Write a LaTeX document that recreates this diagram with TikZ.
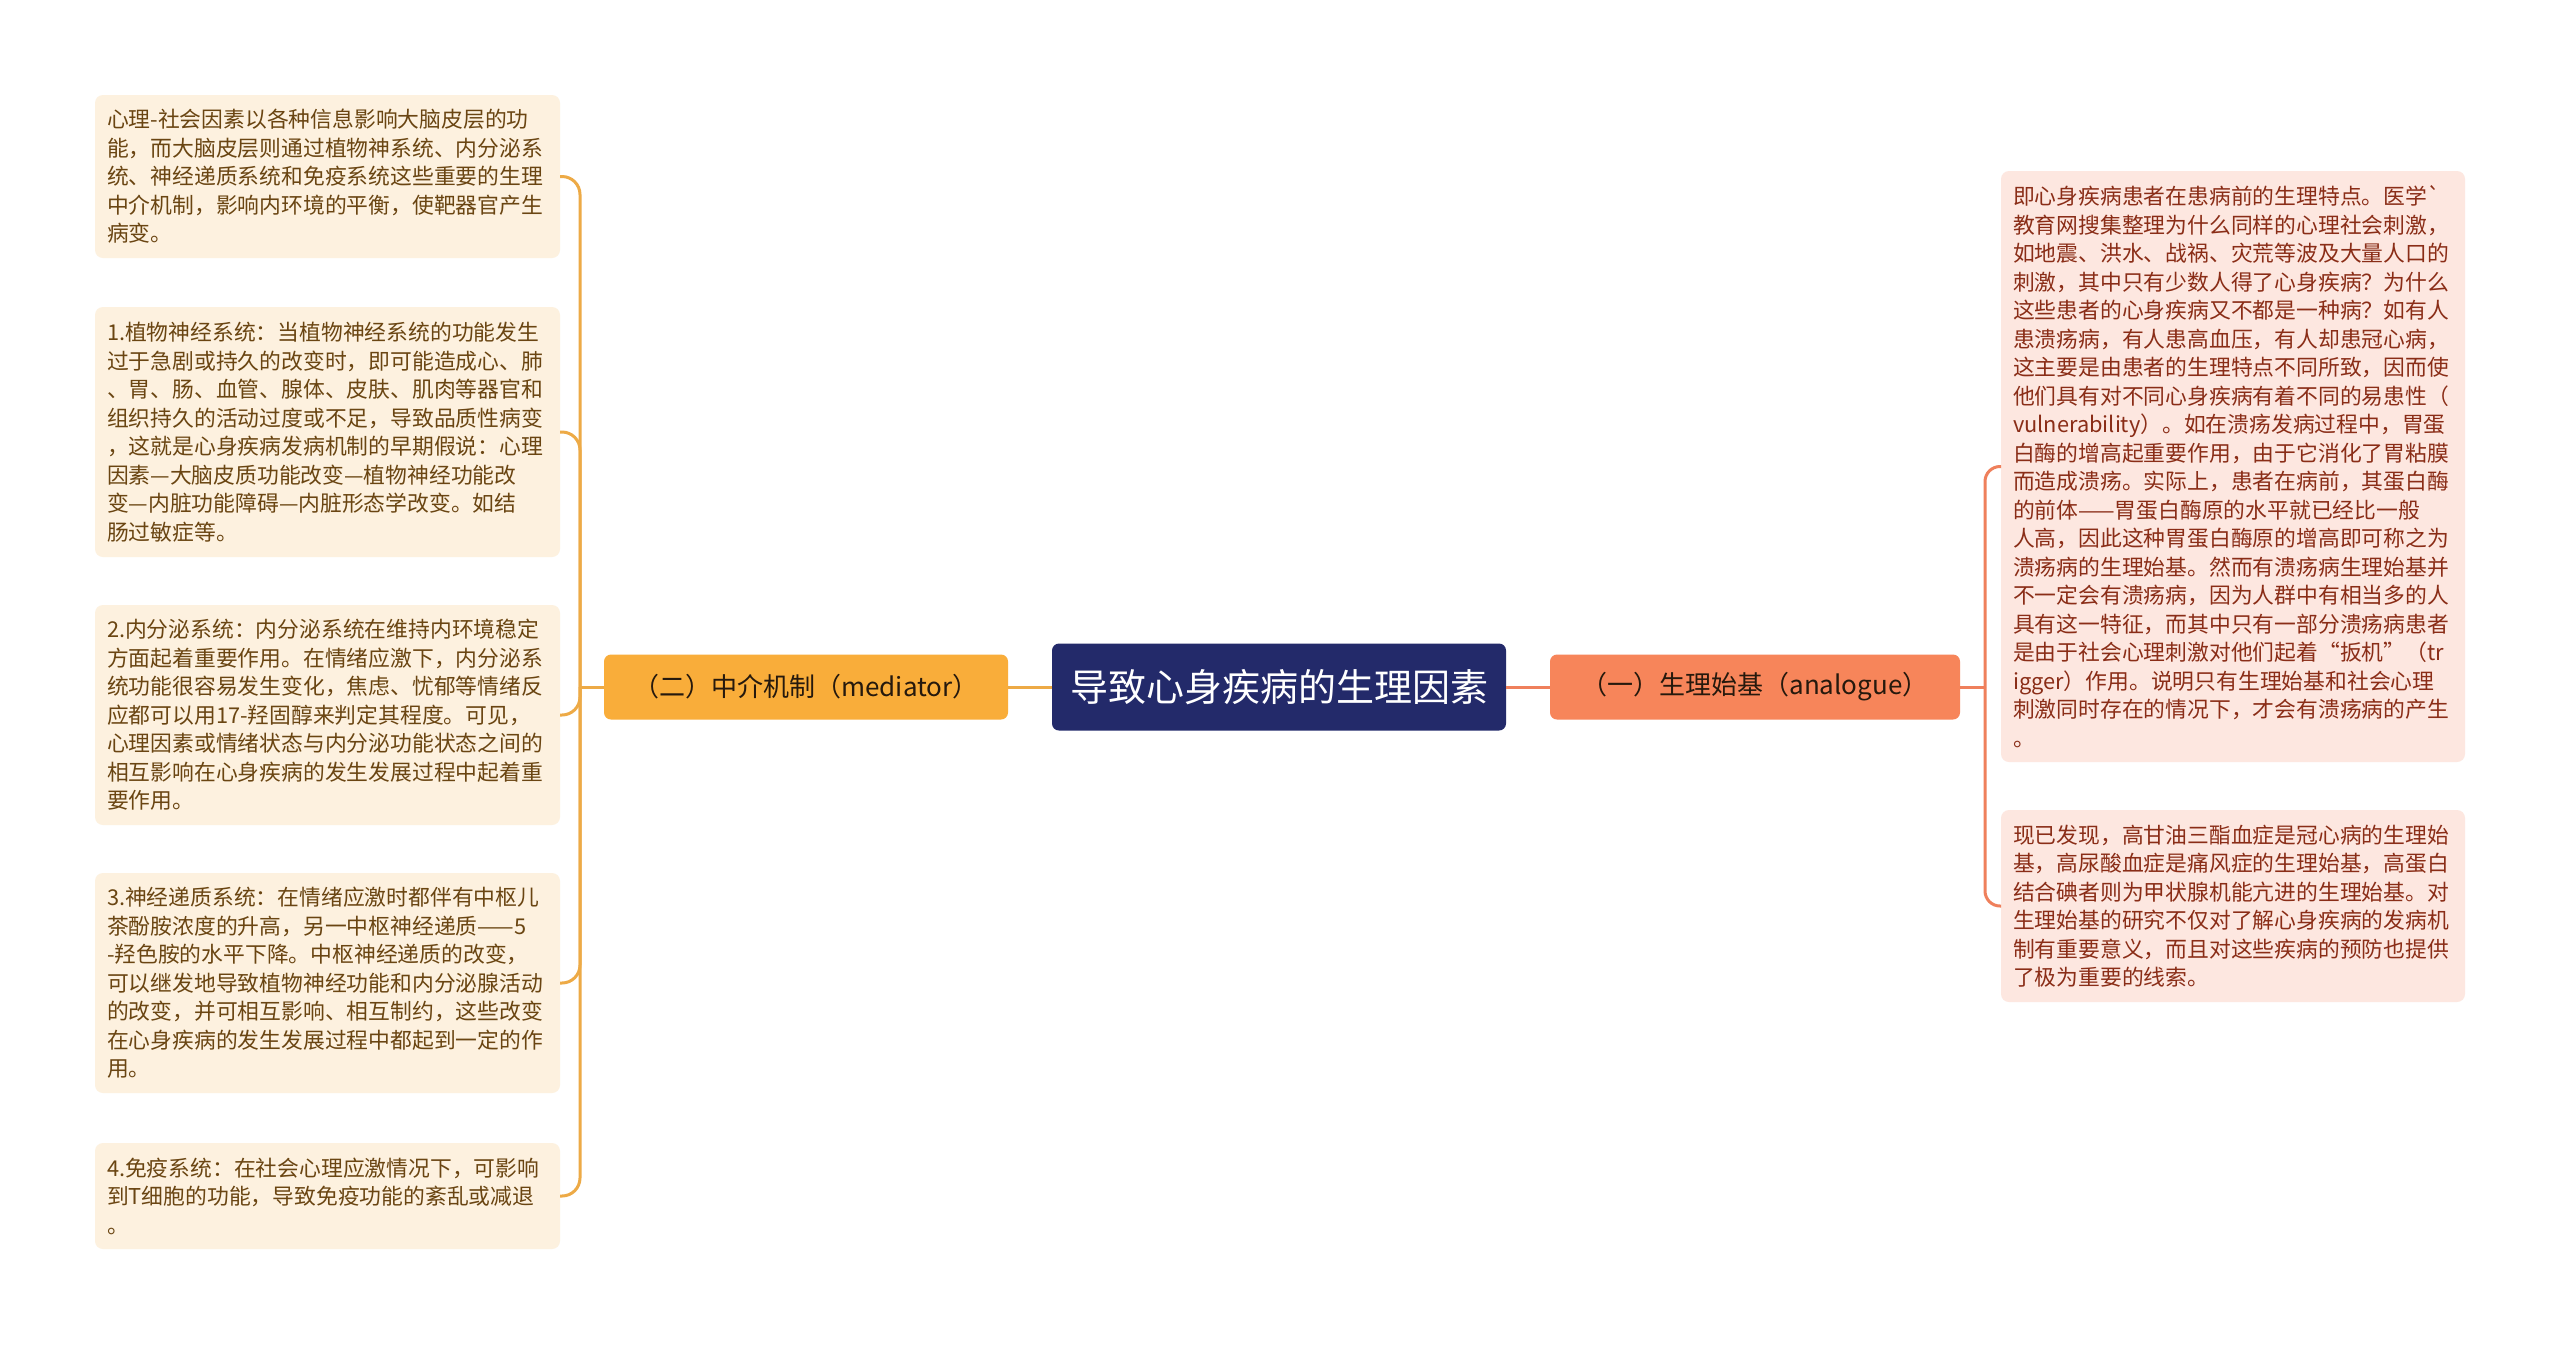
\documentclass[tikz,border=0pt]{standalone}
\usepackage{fontspec}
\setmainfont{Noto Sans CJK SC}
\usetikzlibrary{positioning}

\definecolor{hubblue}{HTML}{232A6A}
\definecolor{medorange}{HTML}{F9AD3A}
\definecolor{anared}{HTML}{F7855A}
\definecolor{leafcream}{HTML}{FDF1DF}
\definecolor{leafpink}{HTML}{FDE7E0}
\definecolor{medtext}{HTML}{6A4512}
\definecolor{anatext}{HTML}{8A2D17}
\definecolor{medline}{HTML}{EDAA46}
\definecolor{analine}{HTML}{EF805C}

\tikzset{
  hub/.style={fill=hubblue, text=white, rounded corners=7pt, minimum width=454pt, minimum height=87pt,
    font=\fontsize{38}{44}\selectfont, outer sep=0pt},
  branchL/.style={fill=medorange, text=black!80!brown, rounded corners=7pt, minimum width=404pt,
    minimum height=65pt, font=\fontsize{26}{30}\selectfont, outer sep=0pt},
  branchR/.style={fill=anared, text=black!80!brown, rounded corners=7pt, minimum width=410pt,
    minimum height=65pt, font=\fontsize{26}{30}\selectfont, outer sep=0pt},
  leafL/.style={fill=leafcream, text=medtext, rounded corners=8pt, align=left, text width=441pt,
    inner xsep=12pt, inner ysep=4pt, anchor=north west, outer sep=0pt,
    font=\fontsize{21.8}{28.5}\selectfont},
  leafR/.style={fill=leafpink, text=anatext, rounded corners=8pt, align=left, text width=440pt,
    inner xsep=12pt, inner ysep=4pt, anchor=north west, outer sep=0pt,
    font=\fontsize{21.8}{28.5}\selectfont},
  linkL/.style={draw=medline, line width=3pt, rounded corners=18pt},
  linkR/.style={draw=analine, line width=3pt, rounded corners=15pt}
}

\begin{document}
\begin{tikzpicture}[x=1pt, y=-1pt, node distance=44pt]
    \useasboundingbox[fill=white] (0,0) rectangle (2560,1345);

    \node (root) [hub] at (1279,687) {导致心身疾病的生理因素};
    \node (med) [branchL, left=of root] {（二）中介机制（mediator）};
    \node (ana) [branchR, right=of root] {（一）生理始基（analogue）};

    % left leaves
    \node (M1) [leafL, minimum height=163pt] at (95,95) {心理-社会因素以各种信息影响大脑皮层的功\\能，而大脑皮层则通过植物神系统、内分泌系\\统、神经递质系统和免疫系统这些重要的生理\\中介机制，影响内环境的平衡，使靶器官产生\\病变。};
    \node (M2) [leafL, minimum height=250pt] at (95,307) {1.植物神经系统：当植物神经系统的功能发生\\过于急剧或持久的改变时，即可能造成心、肺\\、胃、肠、血管、腺体、皮肤、肌肉等器官和\\组织持久的活动过度或不足，导致品质性病变\\，这就是心身疾病发病机制的早期假说：心理\\因素—大脑皮质功能改变—植物神经功能改\\变—内脏功能障碍—内脏形态学改变。如结\\肠过敏症等。};
    \node (M3) [leafL, minimum height=220pt] at (95,605) {2.内分泌系统：内分泌系统在维持内环境稳定\\方面起着重要作用。在情绪应激下，内分泌系\\统功能很容易发生变化，焦虑、忧郁等情绪反\\应都可以用17-羟固醇来判定其程度。可见，\\心理因素或情绪状态与内分泌功能状态之间的\\相互影响在心身疾病的发生发展过程中起着重\\要作用。};
    \node (M4) [leafL, minimum height=220pt] at (95,873) {3.神经递质系统：在情绪应激时都伴有中枢儿\\茶酚胺浓度的升高，另一中枢神经递质——5\\-羟色胺的水平下降。中枢神经递质的改变，\\可以继发地导致植物神经功能和内分泌腺活动\\的改变，并可相互影响、相互制约，这些改变\\在心身疾病的发生发展过程中都起到一定的作\\用。};
    \node (M5) [leafL, minimum height=106pt] at (95,1143) {4.免疫系统：在社会心理应激情况下，可影响\\到T细胞的功能，导致免疫功能的紊乱或减退\\。};

    % right leaves
    \node (A1) [leafR, minimum height=591pt] at (2001,171) {即心身疾病患者在患病前的生理特点。医学\textasciigrave\\教育网搜集整理为什么同样的心理社会刺激，\\如地震、洪水、战祸、灾荒等波及大量人口的\\刺激，其中只有少数人得了心身疾病？为什么\\这些患者的心身疾病又不都是一种病？如有人\\患溃疡病，有人患高血压，有人却患冠心病，\\这主要是由患者的生理特点不同所致，因而使\\他们具有对不同心身疾病有着不同的易患性（\\vulnerability）。如在溃疡发病过程中，胃蛋\\白酶的增高起重要作用，由于它消化了胃粘膜\\而造成溃疡。实际上，患者在病前，其蛋白酶\\的前体——胃蛋白酶原的水平就已经比一般\\人高，因此这种胃蛋白酶原的增高即可称之为\\溃疡病的生理始基。然而有溃疡病生理始基并\\不一定会有溃疡病，因为人群中有相当多的人\\具有这一特征，而其中只有一部分溃疡病患者\\是由于社会心理刺激对他们起着“扳机”（tr\\igger）作用。说明只有生理始基和社会心理\\刺激同时存在的情况下，才会有溃疡病的产生\\。};
    \node (A2) [leafR, minimum height=192pt] at (2001,810) {现已发现，高甘油三酯血症是冠心病的生理始\\基，高尿酸血症是痛风症的生理始基，高蛋白\\结合碘者则为甲状腺机能亢进的生理始基。对\\生理始基的研究不仅对了解心身疾病的发病机\\制有重要意义，而且对这些疾病的预防也提供\\了极为重要的线索。};

    \coordinate (mj) at (580,687);
    \coordinate (aj) at (1985,687);

    % Create edge connections
    \draw[linkL] (root.west) -- (med.east);
    \draw[linkR] (root.east) -- (ana.west);

    \draw[linkL] (med.west) -- (mj);
    \draw[linkL] (mj) |- (M1.east);
    \draw[linkL] (mj) |- (M2.east);
    \draw[linkL] (mj) |- (M3.east);
    \draw[linkL] (mj) |- (M4.east);
    \draw[linkL] (mj) |- (M5.east);

    \draw[linkR] (ana.east) -- (aj);
    \draw[linkR] (aj) |- (A1.west);
    \draw[linkR] (aj) |- (A2.west);
\end{tikzpicture}
\end{document}
